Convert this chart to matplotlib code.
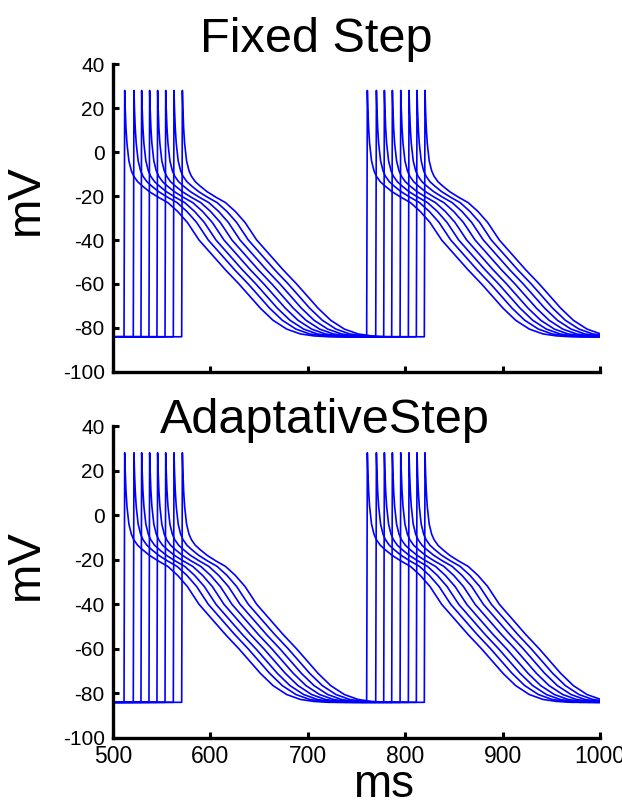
import numpy as np
import matplotlib
matplotlib.use("Agg")
import matplotlib.pyplot as plt

plt.rcParams['font.family'] = ['Liberation Sans', 'DejaVu Sans']
plt.rcParams['axes.unicode_minus'] = False

# action potential shape: ms after upstroke, mV
ap_dt = [0, 0.7, 1.2, 2.0, 3.0, 5.0, 7.5, 10, 14, 19, 26, 35, 45, 55, 65, 77,
         90, 104, 118, 130, 140, 153, 167, 181, 195, 210, 250]
ap_mv = [-84, 28, 20, 11, 4, -4, -8.5, -11, -13.5, -15.5, -18, -20.5, -23, -27,
         -32, -40, -46.5, -53.5, -60, -66, -71, -76.5, -80.5, -82.7, -83.6, -84, -84]

# upstroke times of the 8 traces (ms), first and second beat
onsets_beat1 = [511.3, 520.8, 528.7, 536.9, 545.1, 553.4, 561.9, 570.5]
onsets_beat2 = [760.4, 769.7, 777.9, 786.1, 794.7, 803.2, 811.4, 819.6]

rest_mv = -84
t_start = 500

titles = ['Fixed Step', 'AdaptativeStep']
yticks = [-100, -80, -60, -40, -20, 0, 20, 40]
xticks = [500, 600, 700, 800, 900, 1000]

fig = plt.figure(figsize=(6.22, 8.06), dpi=100)
ax_top = fig.add_axes([0.1817, 0.5385, 0.783, 0.382])
ax_bot = fig.add_axes([0.1817, 0.0844, 0.783, 0.387])


def draw_traces(ax):
    for o1, o2 in zip(onsets_beat1, onsets_beat2):
        t = [t_start] + [o1 + d for d in ap_dt[:-1]] + [o2 + d for d in ap_dt]
        v = [rest_mv] + ap_mv[:-1] + ap_mv
        ax.plot(t, v, color='#0000ff', lw=1.2)


for ax in (ax_top, ax_bot):
    draw_traces(ax)
    ax.set_xlim(500, 1000)
    ax.set_ylim(-100, 40)
    ax.set_yticks(yticks)
    ax.set_xticks(xticks)
    for s in ('top', 'right'):
        ax.spines[s].set_visible(False)
    for s in ('left', 'bottom'):
        ax.spines[s].set_linewidth(2.4)
    ax.tick_params(direction='in', length=4, width=2.2, pad=6)
    ax.tick_params(axis='y', labelsize=15)
    ax.tick_params(axis='x', labelsize=16.5, pad=5)

ax_top.set_xticklabels([])

fig.text(0.508, 0.9355, titles[0], fontsize=35, ha='center', va='baseline')
fig.text(0.5225, 0.4628, titles[1], fontsize=35, ha='center', va='baseline')
fig.text(0.042, 0.752, 'mV', fontsize=34, rotation=90, ha='center', va='center')
fig.text(0.042, 0.299, 'mV', fontsize=34, rotation=90, ha='center', va='center')
fig.text(0.616, 0.011, 'ms', fontsize=33, ha='center', va='baseline')

fig.savefig('out.png', dpi=100)
